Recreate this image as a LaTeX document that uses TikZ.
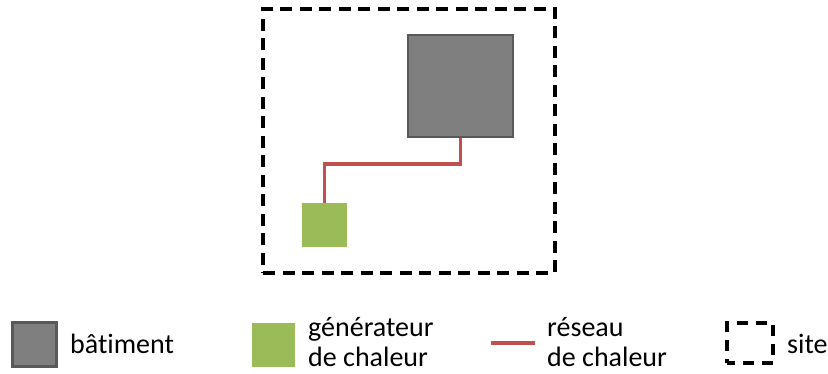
\documentclass[tikz,border=0pt]{standalone}
\usepackage{fontspec}
\setmainfont{Carlito}[Ligatures=NoCommon]
\usetikzlibrary{positioning}
\definecolor{batgray}{HTML}{7F7F7F}
\definecolor{batedge}{HTML}{595959}
\definecolor{gengreen}{HTML}{9BBB59}
\definecolor{netred}{HTML}{C0504D}
\newcommand{\netwidth}{3.6pt}
\begin{document}
\begin{tikzpicture}[x=1pt,y=1pt,
  sitebox/.style={draw=black,line width=3.4pt,dash pattern=on 12pt off 7.5pt,rectangle,inner sep=0pt},
  batbox/.style={fill=batgray,draw=batedge,line width=2.6pt,rectangle,inner sep=0pt},
  genbox/.style={fill=gengreen,rectangle,inner sep=0pt},
  net/.style={draw=netred,line width=\netwidth},
  legtext/.style={anchor=west,align=left,inner sep=0pt,font=\fontsize{28}{30}\selectfont}]
\useasboundingbox (0,0) rectangle (828,-374);
%site
\node[sitebox,minimum width=292pt,minimum height=264pt] (site) at (409,-141) {};
\node[batbox,minimum width=105pt,minimum height=102pt] (bat) at (460.5,-86) {};
\node[genbox,minimum width=45pt,minimum height=44pt] (gen) at (324.5,-225) {};
\draw[net] (bat.south) -- ++(0,-26) coordinate (knee) -| (gen.north);
%legende
\node[batbox,minimum width=44pt,minimum height=44pt] (lbat) at (34.5,-344.5) {};
\node[legtext] (tbat) at (70,-344) {bâtiment};
\node[genbox,minimum width=43pt,minimum height=44pt] (lgen) at (273.5,-345) {};
\node[legtext] (tgen) at (308,-342) {générateur\\de chaleur};
\coordinate (lnetA) at (491,-343);
\coordinate (lnetB) at (535,-343);
\draw[net] (lnetA) -- (lnetB);
\node[legtext] (tnet) at (547,-342) {réseau\\de chaleur};
\node[draw=black,line width=3.2pt,dash pattern=on 11pt off 8pt,dash phase=3pt,rectangle,inner sep=0pt,minimum width=46pt,minimum height=40pt] (lsite) at (750,-343) {};
\node[legtext] (tsite) at (787,-344) {site};
\end{tikzpicture}
\end{document}
